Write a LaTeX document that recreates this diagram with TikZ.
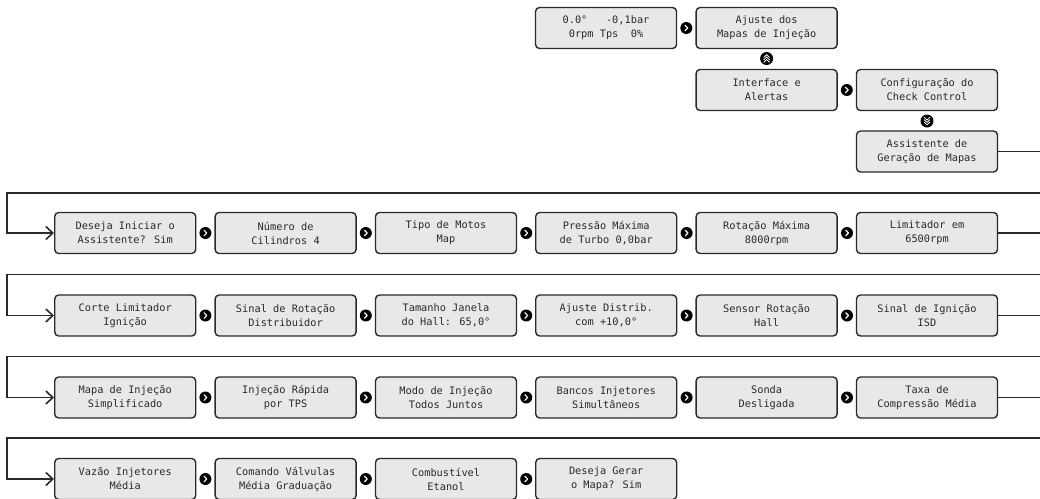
\documentclass[tikz,border=0pt]{standalone}
\usepackage{fontspec}
\newfontfamily\lcd{DejaVu Sans Mono}
\usetikzlibrary{arrows.meta}
\definecolor{boxfill}{HTML}{E8E8E8}
\definecolor{ink}{HTML}{2A2A2A}
\tikzset{
 menubox/.style={draw=ink, line width=1.4pt, fill=boxfill, rounded corners=4pt,
   minimum width=141pt, minimum height=41pt, inner sep=0pt, align=center,
   font=\lcd\fontsize{10.3}{14}\selectfont, text=ink},
 nextbtn/.style={circle, fill=black, minimum size=12pt, inner sep=0pt,
   path picture={\draw[white, line width=1.2pt, line cap=round, line join=round]
     ([shift={(-1.3pt,-2.8pt)}]path picture bounding box.center) -- ++(2.7pt,2.8pt) -- ++(-2.7pt,2.8pt);}},
 upbtn/.style={circle, fill=black, minimum size=13pt, inner sep=0pt,
   path picture={\foreach \d in {-2.4,0,2.4}{\draw[white, line width=0.8pt]
     ([shift={(-3pt,{(\d-1.4)*1pt})}]path picture bounding box.center) -- ++(3pt,2.8pt) -- ++(3pt,-2.8pt);}}},
 downbtn/.style={circle, fill=black, minimum size=13pt, inner sep=0pt,
   path picture={\foreach \d in {-2.4,0,2.4}{\draw[white, line width=0.8pt]
     ([shift={(-3pt,{(\d+1.4)*1pt})}]path picture bounding box.center) -- ++(3pt,-2.8pt) -- ++(3pt,2.8pt);}}},
 conn/.style={draw=ink, line width=1.4pt},
 feed/.style={conn, -{Straight Barb[length=7pt,width=13pt,line width=1.6pt]}},
}
\begin{document}
\begin{tikzpicture}[x=1pt,y=-1pt]
\useasboundingbox (0,0) rectangle (1040,498);
% top section
\node[menubox] (disp) at (606,28) {0.0°\ \ \ -0,1bar\\0rpm Tps\ \ 0\%};
\node[nextbtn] (n0) at (686.3,28) {};
\node[menubox] (ajuste) at (766.6,28) {Ajuste dos\\Mapas de Injeção};
\node[upbtn] (up) at (766.6,58.5) {};
\node[menubox] (iface) at (766.6,90) {Interface e\\Alertas};
\node[nextbtn] (n1) at (846.8,90) {};
\node[menubox] (check) at (927,90) {Configuração do\\Check Control};
\node[downbtn] (down) at (927,121) {};
\node[menubox] (assist) at (927,151.5) {Assistente de\\Geração de Mapas};
% row 1
\node[menubox] (a1) at (125.2,233) {Deseja Iniciar o\\Assistente? Sim};
\node[menubox] (a2) at (285.6,233) {Número de\\Cilindros 4};
\node[menubox] (a3) at (446,233) {Tipo de Motos\\Map};
\node[menubox] (a4) at (606.2,233) {Pressão Máxima\\de Turbo 0,0bar};
\node[menubox] (a5) at (766.6,233) {Rotação Máxima\\8000rpm};
\node[menubox] (a6) at (927,233) {Limitador em\\6500rpm};
% row 2
\node[menubox] (b1) at (125.2,315.5) {Corte Limitador\\Ignição};
\node[menubox] (b2) at (285.6,315.5) {Sinal de Rotação\\Distribuidor};
\node[menubox] (b3) at (446,315.5) {Tamanho Janela\\do Hall: 65,0°};
\node[menubox] (b4) at (606.2,315.5) {Ajuste Distrib.\\com +10,0°};
\node[menubox] (b5) at (766.6,315.5) {Sensor Rotação\\Hall};
\node[menubox] (b6) at (927,315.5) {Sinal de Ignição\\ISD};
% row 3
\node[menubox] (c1) at (125.2,397.5) {Mapa de Injeção\\Simplificado};
\node[menubox] (c2) at (285.6,397.5) {Injeção Rápida\\por TPS};
\node[menubox] (c3) at (446,397.5) {Modo de Injeção\\Todos Juntos};
\node[menubox] (c4) at (606.2,397.5) {Bancos Injetores\\Simultâneos};
\node[menubox] (c5) at (766.6,397.5) {Sonda\\Desligada};
\node[menubox] (c6) at (927,397.5) {Taxa de\\Compressão Média};
% row 4
\node[menubox] (d1) at (125.2,479) {Vazão Injetores\\Média};
\node[menubox] (d2) at (285.6,479) {Comando Válvulas\\Média Graduação};
\node[menubox] (d3) at (446,479) {Combustível\\Etanol};
\node[menubox] (d4) at (606.2,479) {Deseja Gerar\\o Mapa? Sim};
% next buttons in rows
\foreach \r/\y in {a/233,b/315.5,c/397.5}{
  \foreach \k in {0,1,2,3,4}{
    \node[nextbtn] (btn\r\k) at ({205.4+160.4*\k},\y) {};
  }
}
\foreach \k in {0,1,2}{
  \node[nextbtn] (btnd\k) at ({205.4+160.4*\k},479) {};
}
% connectors
\coordinate (e0) at (1040,151.5);
\coordinate (s1) at (1040,193); \coordinate (l1) at (7,193);
\coordinate (e1) at (1040,233);
\coordinate (s2) at (1040,274.5); \coordinate (l2) at (7,274.5);
\coordinate (e2) at (1040,315.5);
\coordinate (s3) at (1040,356.5); \coordinate (l3) at (7,356.5);
\coordinate (e3) at (1040,397.5);
\coordinate (s4) at (1040,438); \coordinate (l4) at (7,438);
\draw[conn] (assist.east) -- (e0);
\draw[feed] (s1) -- (l1) |- (a1.west);
\draw[conn] (a6.east) -- (e1);
\draw[feed] (s2) -- (l2) |- (b1.west);
\draw[conn] (b6.east) -- (e2);
\draw[feed] (s3) -- (l3) |- (c1.west);
\draw[conn] (c6.east) -- (e3);
\draw[feed] (s4) -- (l4) |- (d1.west);
\end{tikzpicture}
\end{document}
